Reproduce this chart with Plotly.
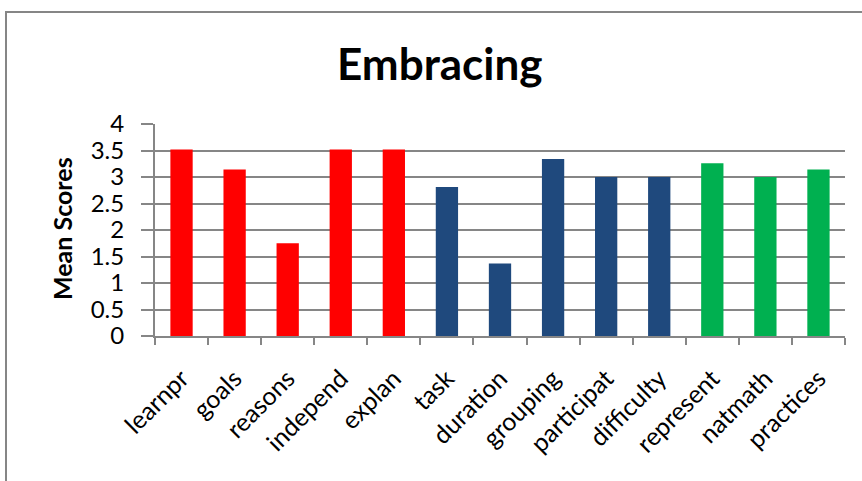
import plotly.graph_objects as go

categories = ["learnpr", "goals", "reasons", "independ", "explan", "task", "duration",
              "grouping", "participat", "difficulty", "represent", "natmath", "practices"]
values = [3.52, 3.14, 1.75, 3.52, 3.52, 2.81, 1.37, 3.34, 3.0, 3.0, 3.26, 3.0, 3.14]
groups = ["r", "r", "r", "r", "r", "b", "b", "b", "b", "b", "g", "g", "g"]
group_colors = {"r": "#FF0000", "b": "#1F497D", "g": "#00B050"}
y_ticks = [0, 0.5, 1, 1.5, 2, 2.5, 3, 3.5, 4]
y_tick_text = ["0", "0.5", "1", "1.5", "2", "2.5", "3", "3.5", "4"]

W, H = 862, 481
L, R, T, B = 155, 17, 124, 145
pw, ph = W - L - R, H - T - B

fig = go.Figure(go.Bar(
    x=categories, y=values,
    marker=dict(color=[group_colors[g] for g in groups], line=dict(width=0)),
    width=0.42,
))

font = "Lato, Calibri, sans-serif"
grid = "#868686"

fig.update_layout(
    width=W, height=H,
    margin=dict(l=L, r=R, t=T, b=B),
    paper_bgcolor="white", plot_bgcolor="white",
    showlegend=False,
    font=dict(family=font, color="black"),
    xaxis=dict(
        type="category", tickson="boundaries", ticks="outside", ticklen=7,
        tickcolor=grid, tickwidth=2, showline=True, linecolor=grid, linewidth=2,
        showgrid=False, tickangle=-45, tickfont=dict(size=25, family=font),
        ticklabelstandoff=16,
    ),
    yaxis=dict(
        range=[0, 4], tickvals=y_ticks, ticktext=y_tick_text, ticks="outside",
        ticklen=12, tickcolor=grid, tickwidth=2, showline=True, linecolor=grid,
        linewidth=2, showgrid=True, gridcolor=grid, gridwidth=2, zeroline=False,
        tickfont=dict(size=24, family=font), ticklabelstandoff=12,
    ),
)

# outer chart border (Excel chart area)
fig.add_shape(type="rect", xref="paper", yref="paper",
              x0=(6 - L) / pw, x1=(W + 20 - L) / pw,
              y0=-(H + 20 - T - ph) / ph, y1=1 + (T - 12) / ph,
              line=dict(color="#868686", width=2), fillcolor="rgba(0,0,0,0)", layer="below")

fig.add_annotation(text="<b>Embracing</b>", xref="paper", yref="paper",
                   x=(440 - L) / pw, y=1 + (T - 63) / ph, xanchor="center", yanchor="middle",
                   showarrow=False, font=dict(size=44, family=font, color="black"))

fig.add_annotation(text="<b>Mean Scores</b>", xref="paper", yref="paper",
                   x=(62 - L) / pw, y=(T + ph - 229) / ph, xanchor="center", yanchor="middle",
                   textangle=-90, showarrow=False, font=dict(size=25, family=font, color="black"))

fig.write_html("out.html")
